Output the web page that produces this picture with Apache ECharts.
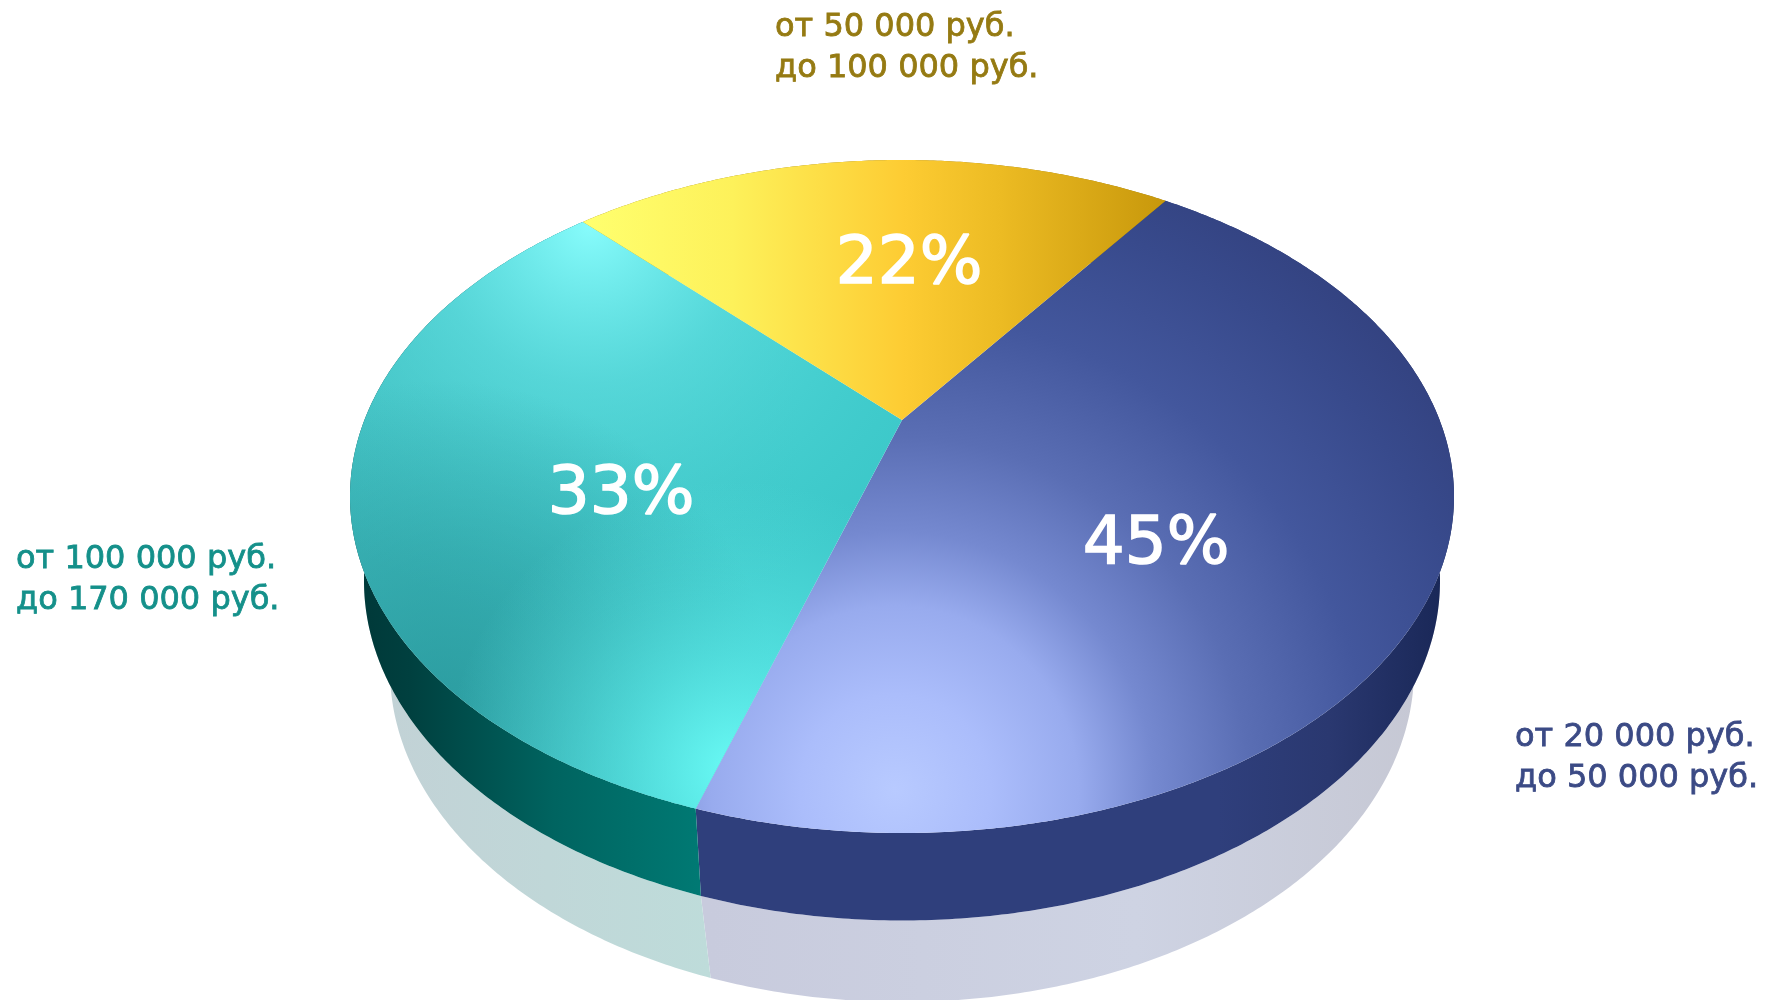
<!DOCTYPE html>
<html>
<head>
<meta charset="utf-8">
<style>html,body{margin:0;padding:0;background:#fff}#c{width:1770px;height:1000px}</style>
<script src="https://cdn.jsdelivr.net/npm/echarts@6/dist/echarts.min.js"></script>
</head>
<body>
<div id="c"></div>
<script>
// ---- data ----
const categories = ['от 20 000 руб.\nдо 50 000 руб.', 'от 100 000 руб.\nдо 170 000 руб.', 'от 50 000 руб.\nдо 100 000 руб.'];
const shares = [45, 33, 22];
// ---- layout and style ----
const startAngle = 35.5;
const tilt = 0.227;
const topFace = {cx: 902, cy: 496.5, a: 552, b: 336.5};
const wallFace = {cx: 902, cy: 581, a: 538, b: 339.5};
const mirrorFace = {cx: 902, cy: 670, a: 512, b: 332};
const percentAt = [[1156, 546], [621, 495.5], [909, 266]];
const rangeAt = [[1515, 758, '#3b4a85'], [16, 580, '#14908a'], [775, 48, '#957a12']];
const FONT = '"DejaVu Sans", sans-serif';

const G = echarts.graphic;
const lin = (x0, x1, stops) => new G.LinearGradient(x0, 0, x1, 0, stops.map(s => ({offset: s[0], color: s[1]})), true);
const rad = (x, y, r, stops) => new G.RadialGradient(x, y, r, stops.map(s => ({offset: s[0], color: s[1]})), true);

const topFills = [
  [rad(895, 790, 680, [[0, '#b8caff'], [0.14, '#abbdfb'], [0.27, '#98abee'], [0.38, '#7589d0'], [0.52, '#5a6eb4'], [0.7, '#43579d'], [0.88, '#384a8c'], [1, '#334280']])],
  [lin(350, 800, [[0, '#40bec0'], [1, '#3cc8c9']]),
   rad(590, 225, 400, [[0, 'rgba(135,252,252,1)'], [0.4, 'rgba(105,230,232,0.55)'], [1, 'rgba(80,215,215,0)']]),
   rad(440, 720, 340, [[0, 'rgba(35,140,145,0.7)'], [0.5, 'rgba(35,140,145,0.38)'], [1, 'rgba(35,140,145,0)']]),
   rad(735, 770, 290, [[0, 'rgba(105,250,245,1)'], [0.4, 'rgba(95,238,236,0.6)'], [1, 'rgba(90,225,225,0)']])],
  [lin(590, 1160, [[0, '#ffff6e'], [0.25, '#fdf15a'], [0.55, '#fdcc33'], [0.72, '#ecbb23'], [1, '#c9990c']])]
];
const wallFills = [
  lin(700, 1440, [[0, '#2f3f7c'], [0.7, '#2f3f7c'], [0.85, '#2a3870'], [1, '#1a2858']]),
  lin(370, 705, [[0, '#003a3a'], [0.12, '#00403f'], [0.55, '#006460'], [1, '#007a74']]),
  '#9a7a10'
];
const mirrorFills = [
  lin(710, 1420, [[0, '#c8cbdd'], [0.6, '#ced3e3'], [1, '#c6c8d4']]),
  lin(385, 712, [[0, '#c2d2d6'], [1, '#bedcda']]),
  '#eeeeee'
];

function project(deg, f) {
  const t = deg * Math.PI / 180, x = Math.sin(t), y = -Math.cos(t);
  const d = 1 - tilt * y;
  return [f.cx + f.a * x * Math.sqrt(1 - tilt * tilt) / d, f.cy + f.b * (y - tilt) / d];
}
const total = shares.reduce((s, v) => s + v, 0);
function arc(index, value, f) {
  let from = startAngle;
  for (let i = 0; i < index; i++) from += shares[i] / total * 360;
  const sweep = value / total * 360, n = Math.ceil(sweep * 2), pts = [];
  for (let j = 0; j <= n; j++) pts.push(project(from + sweep * j / n, f));
  return pts;
}
const wedge = (i, v, f) => [[f.cx, f.cy - f.b * tilt]].concat(arc(i, v, f));
const band = (i, v, f, g) => arc(i, v, f).concat(arc(i, v, g).reverse());
const seriesData = shares.map((v, i) => [i, v]);

function layer(pointsOf, fillsOf, extra) {
  return {
    type: 'custom', coordinateSystem: 'none', silent: true, animation: false, clip: false,
    data: seriesData,
    renderItem(params, api) {
      const i = api.value(0), v = api.value(1);
      const points = pointsOf(i, v);
      const children = fillsOf(i).map(fill => ({type: 'polygon', shape: {points}, style: {fill}}));
      if (extra) children.push(...extra(i, v));
      return {type: 'group', children};
    }
  };
}
const chart = echarts.init(document.getElementById('c'), null, {renderer: 'canvas'});
chart.setOption({
  backgroundColor: '#ffffff',
  animation: false,
  series: [
    layer((i, v) => band(i, v, wallFace, mirrorFace), i => [mirrorFills[i]]),
    layer((i, v) => band(i, v, topFace, wallFace), i => [wallFills[i]]),
    layer((i, v) => wedge(i, v, topFace), i => topFills[i], (i, v) => [
      {type: 'text', z2: 10, style: {text: v + '%', x: percentAt[i][0], y: percentAt[i][1], fill: '#ffffff',
        font: '400 66px ' + FONT, align: 'center', verticalAlign: 'middle',
        stroke: '#ffffff', lineWidth: 1.5}},
      {type: 'text', z2: 10, style: {text: categories[i], x: rangeAt[i][0], y: rangeAt[i][1], fill: rangeAt[i][2],
        font: '400 32px ' + FONT, lineHeight: 41, align: 'left', verticalAlign: 'middle',
        stroke: rangeAt[i][2], lineWidth: 0.8}}
    ])
  ]
});
</script>
</body>
</html>
